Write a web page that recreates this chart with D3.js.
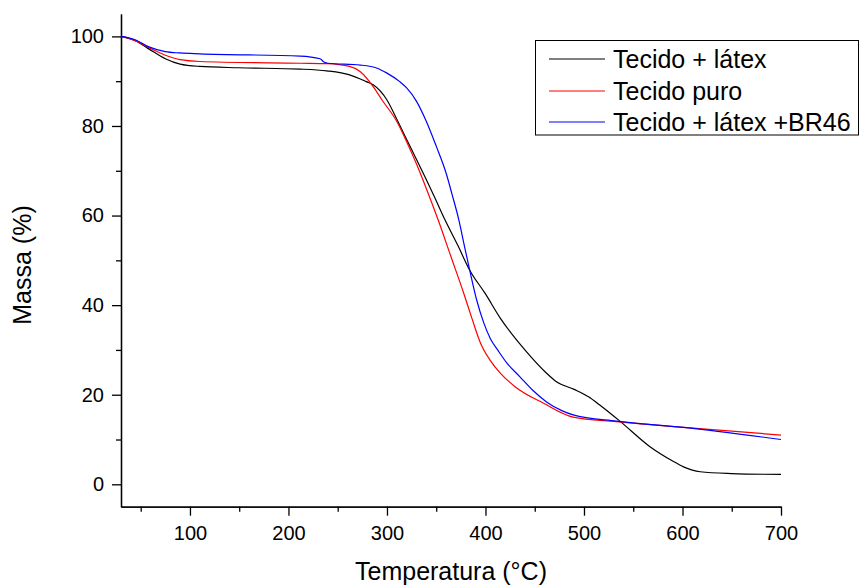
<!DOCTYPE html>
<html>
<head>
<meta charset="utf-8">
<script src="https://cdn.jsdelivr.net/npm/d3@7"></script>
<style>
  body { margin: 0; background: #fff; }
  svg { font-family: Arial, "Liberation Sans", sans-serif; }
  .axis path, .axis line { stroke: #000; stroke-width: 1.3px; }
  .axis text { font-size: 20px; fill: #000; font-family: Arial, "Liberation Sans", sans-serif; }
</style>
</head>
<body>
<div id="chart"></div>
<script>
// data
var tempLatex = [30, 45, 59, 75, 90, 110, 150, 212, 239, 262, 279, 286, 300, 310, 320, 330, 340, 350, 359, 372, 384, 400, 415, 440, 462, 472, 490, 505, 516, 537, 567, 590, 601, 618, 650, 700];
var massLatex = [100, 99, 97.1, 95, 93.8, 93.3, 93.0, 92.7, 92.3, 91.4, 89.9, 89.2, 85.8, 81.5, 77, 72.5, 68, 63.3, 59, 53.3, 47.8, 42.5, 37.1, 30, 24.8, 22.9, 21.2, 19.5, 17.7, 14, 8.4, 5.2, 3.9, 2.8, 2.4, 2.2];

var tempPuro = [30, 45, 59, 75, 90, 110, 212, 239, 262, 273, 286, 295, 310, 320, 330, 340, 352, 365, 378, 386, 395, 405, 415, 430, 459, 489, 533, 601, 700];
var massPuro = [100, 99, 97.4, 95.8, 94.8, 94.4, 94.0, 93.9, 93.3, 92.1, 88.8, 85.8, 81, 76.5, 71.5, 66, 59, 50.8, 42.6, 37.2, 31.5, 27.6, 24.8, 21.8, 18.1, 15.0, 14.0, 12.7, 11.0];

var tempBR46 = [30, 45, 59, 75, 90, 110, 212, 232, 236, 240, 273, 290, 300, 313, 320, 330, 340, 350, 360, 366, 373, 379, 384, 391, 398, 405, 413, 422, 435, 448, 462, 478, 489, 533, 601, 700];
var massBR46 = [100, 99.2, 97.6, 96.6, 96.3, 96.1, 95.6, 95.0, 94.3, 94.0, 93.6, 92.9, 91.8, 89.9, 88.5, 85.5, 81, 75.5, 69.5, 64.8, 59, 52.8, 47.8, 41.2, 36.2, 32.5, 29.8, 27, 24.0, 21, 18.4, 16.4, 15.5, 14.1, 12.7, 10.0];

var seriesNames = ['Tecido + látex', 'Tecido puro', 'Tecido + látex +BR46'];
var seriesColors = ['#000000', '#ff0000', '#0000ff'];

var xTicks = [100, 200, 300, 400, 500, 600, 700];
var xMinor = [50, 150, 250, 350, 450, 550, 650];
var yTicks = [0, 20, 40, 60, 80, 100];
var yMinor = [10, 30, 50, 70, 90];

var width = 860, height = 588;

var svg = d3.select('#chart')
    .append('svg')
    .attr('width', width)
    .attr('height', height);

var x_scale = d3.scaleLinear()
    .domain([30, 700])
    .range([121, 781]);

var y_scale = d3.scaleLinear()
    .domain([-5, 105])
    .range([506.7, 14]);

// minor ticks first, then the labelled axes on top
svg.append('g')
    .attr('class', 'axis')
    .attr('transform', 'translate(0,506.7)')
    .call(d3.axisBottom(x_scale).tickValues(xMinor).tickSize(5).tickSizeOuter(0).tickFormat(''));

svg.append('g')
    .attr('class', 'axis')
    .attr('transform', 'translate(121,0)')
    .call(d3.axisLeft(y_scale).tickValues(yMinor).tickSize(5).tickSizeOuter(0).tickFormat(''));

svg.append('g')
    .attr('class', 'axis')
    .attr('transform', 'translate(0,506.7)')
    .call(d3.axisBottom(x_scale).tickValues(xTicks).tickSize(9).tickPadding(10).tickSizeOuter(0));

svg.append('g')
    .attr('class', 'axis')
    .attr('transform', 'translate(121,0)')
    .call(d3.axisLeft(y_scale).tickValues(yTicks).tickSize(9).tickPadding(8).tickSizeOuter(0));

// curves
var series = [
    { name: seriesNames[0], color: seriesColors[0], t: tempLatex, m: massLatex },
    { name: seriesNames[1], color: seriesColors[1], t: tempPuro, m: massPuro },
    { name: seriesNames[2], color: seriesColors[2], t: tempBR46, m: massBR46 }
];

var line = d3.line()
    .x(function (d) { return x_scale(d[0]); })
    .y(function (d) { return y_scale(d[1]); })
    .curve(d3.curveMonotoneX);

series.forEach(function (s) {
    var pts = s.t.map(function (t, i) { return [t, s.m[i]]; });
    svg.append('path')
        .datum(pts)
        .attr('fill', 'none')
        .attr('stroke', s.color)
        .attr('stroke-width', 1.2)
        .attr('d', line);
});

// axis titles
svg.append('text')
    .attr('x', 451)
    .attr('y', 580)
    .attr('text-anchor', 'middle')
    .style('font-size', '25px')
    .text('Temperatura (°C)');

svg.append('text')
    .attr('transform', 'translate(31,265) rotate(-90)')
    .attr('text-anchor', 'middle')
    .style('font-size', '25px')
    .text('Massa (%)');

// legend
var legend = svg.append('g');
legend.append('rect')
    .attr('x', 535.5)
    .attr('y', 40.5)
    .attr('width', 323)
    .attr('height', 94.5)
    .attr('fill', '#fff')
    .attr('stroke', '#000')
    .attr('stroke-width', 1);

var rowY = [59, 91, 122];
series.forEach(function (s, i) {
    legend.append('line')
        .attr('x1', 549).attr('x2', 605)
        .attr('y1', rowY[i]).attr('y2', rowY[i])
        .attr('stroke', s.color)
        .attr('stroke-width', 1.2);
    legend.append('text')
        .attr('x', 613)
        .attr('y', rowY[i] + 8.5)
        .style('font-size', '25px')
        .text(s.name);
});
</script>
</body>
</html>
